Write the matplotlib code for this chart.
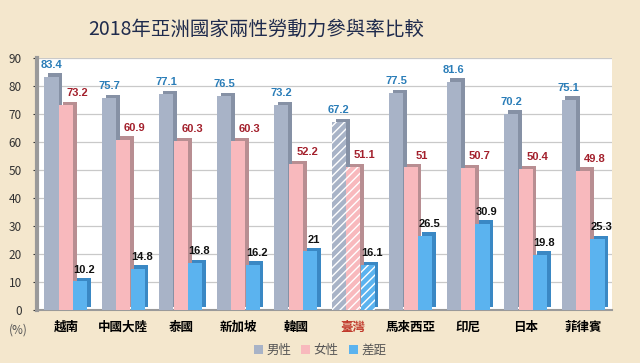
import numpy as np
import matplotlib.pyplot as plt
from matplotlib.patches import Patch

plt.rcParams['font.family'] = ['Noto Sans CJK TC', 'DejaVu Sans']

# data
countries = ['越南', '中國大陸', '泰國', '新加坡', '韓國', '臺灣', '馬來西亞', '印尼', '日本', '菲律賓']
male = [83.4, 75.7, 77.1, 76.5, 73.2, 67.2, 77.5, 81.6, 70.2, 75.1]
female = [73.2, 60.9, 60.3, 60.3, 52.2, 51.1, 51, 50.7, 50.4, 49.8]
gap = [10.2, 14.8, 16.8, 16.2, 21, 16.1, 26.5, 30.9, 19.8, 25.3]
series_names = ['男性', '女性', '差距']
highlight = '臺灣'

# styles
front = ['#a8b3c7', '#f8b9bd', '#5bb3ef']
side = ['#8691a5', '#b88e92', '#3a88c4']
label_col = ['#2a7db8', '#a3202c', '#111111']
label_dx = [0.0, 0.2, 0.07]

fig = plt.figure(figsize=(6.4, 3.63), dpi=100)
fig.patch.set_facecolor('#f4e7cd')
ax = fig.add_axes([0.058, 0.146, 0.898, 0.694])
ax.set_facecolor('white')

x = np.arange(len(countries))
w = 0.245
d = 0.065
dy = 1.2

for i, vals in enumerate([male, female, gap]):
    pos = x + (i - 1) * 0.25
    hatches = ['////' if c == highlight else None for c in countries]
    # depth (side/top) drawn as an offset darker bar
    ax.bar(pos + d, vals, width=w, bottom=dy, color=side[i], zorder=2, linewidth=0)
    bars = ax.bar(pos, vals, width=w, color=front[i], zorder=3, linewidth=0)
    for b, h in zip(bars, hatches):
        if h:
            b.set_hatch(h)
            b.set_edgecolor('white')
    for p, v in zip(pos, vals):
        ax.text(p + label_dx[i], v + dy + 1.2, f'{v:g}', ha='center', va='bottom',
                fontsize=8, fontweight='bold', color=label_col[i], zorder=5,
                family=['Liberation Sans', 'DejaVu Sans'])

ax.set_xlim(-0.5, len(countries) - 0.5)
ax.set_ylim(0, 90)
ax.set_yticks(range(0, 91, 10))
ax.yaxis.grid(True, color='#c9c9c9', linewidth=0.9, zorder=0)
ax.set_axisbelow(True)
ax.tick_params(axis='y', labelsize=8.5, colors='#333333', length=3, pad=8)
ax.set_xticks(x)
ax.set_xticklabels(countries, fontsize=9, fontweight='bold')
ax.tick_params(axis='x', length=0, pad=8)
for lbl in ax.get_xticklabels():
    if lbl.get_text() == highlight:
        lbl.set_color('#c0392b')
for s in ['top', 'right']:
    ax.spines[s].set_visible(False)
ax.spines['left'].set_color('#9a9a9a')
ax.spines['left'].set_linewidth(3)
ax.spines['bottom'].set_color('#9a9a9a')
ax.spines['bottom'].set_linewidth(1.5)

fig.text(0.028, 0.09, '(%)', fontsize=8.5, color='#555555', ha='center', va='center')

fig.text(0.40, 0.92, '2018年亞洲國家兩性勞動力參與率比較', fontsize=14,
         color='#1f2b4d', ha='center', va='center')

handles = [Patch(facecolor=c, label=n) for c, n in zip(front, series_names)]
fig.legend(handles=handles, loc='center', bbox_to_anchor=(0.5, 0.035), ncol=3,
           frameon=False, fontsize=9, handlelength=0.7, handleheight=0.7,
           handletextpad=0.3, columnspacing=0.8, labelcolor='#555555')

fig.savefig('out.png', dpi=100, facecolor=fig.get_facecolor())
